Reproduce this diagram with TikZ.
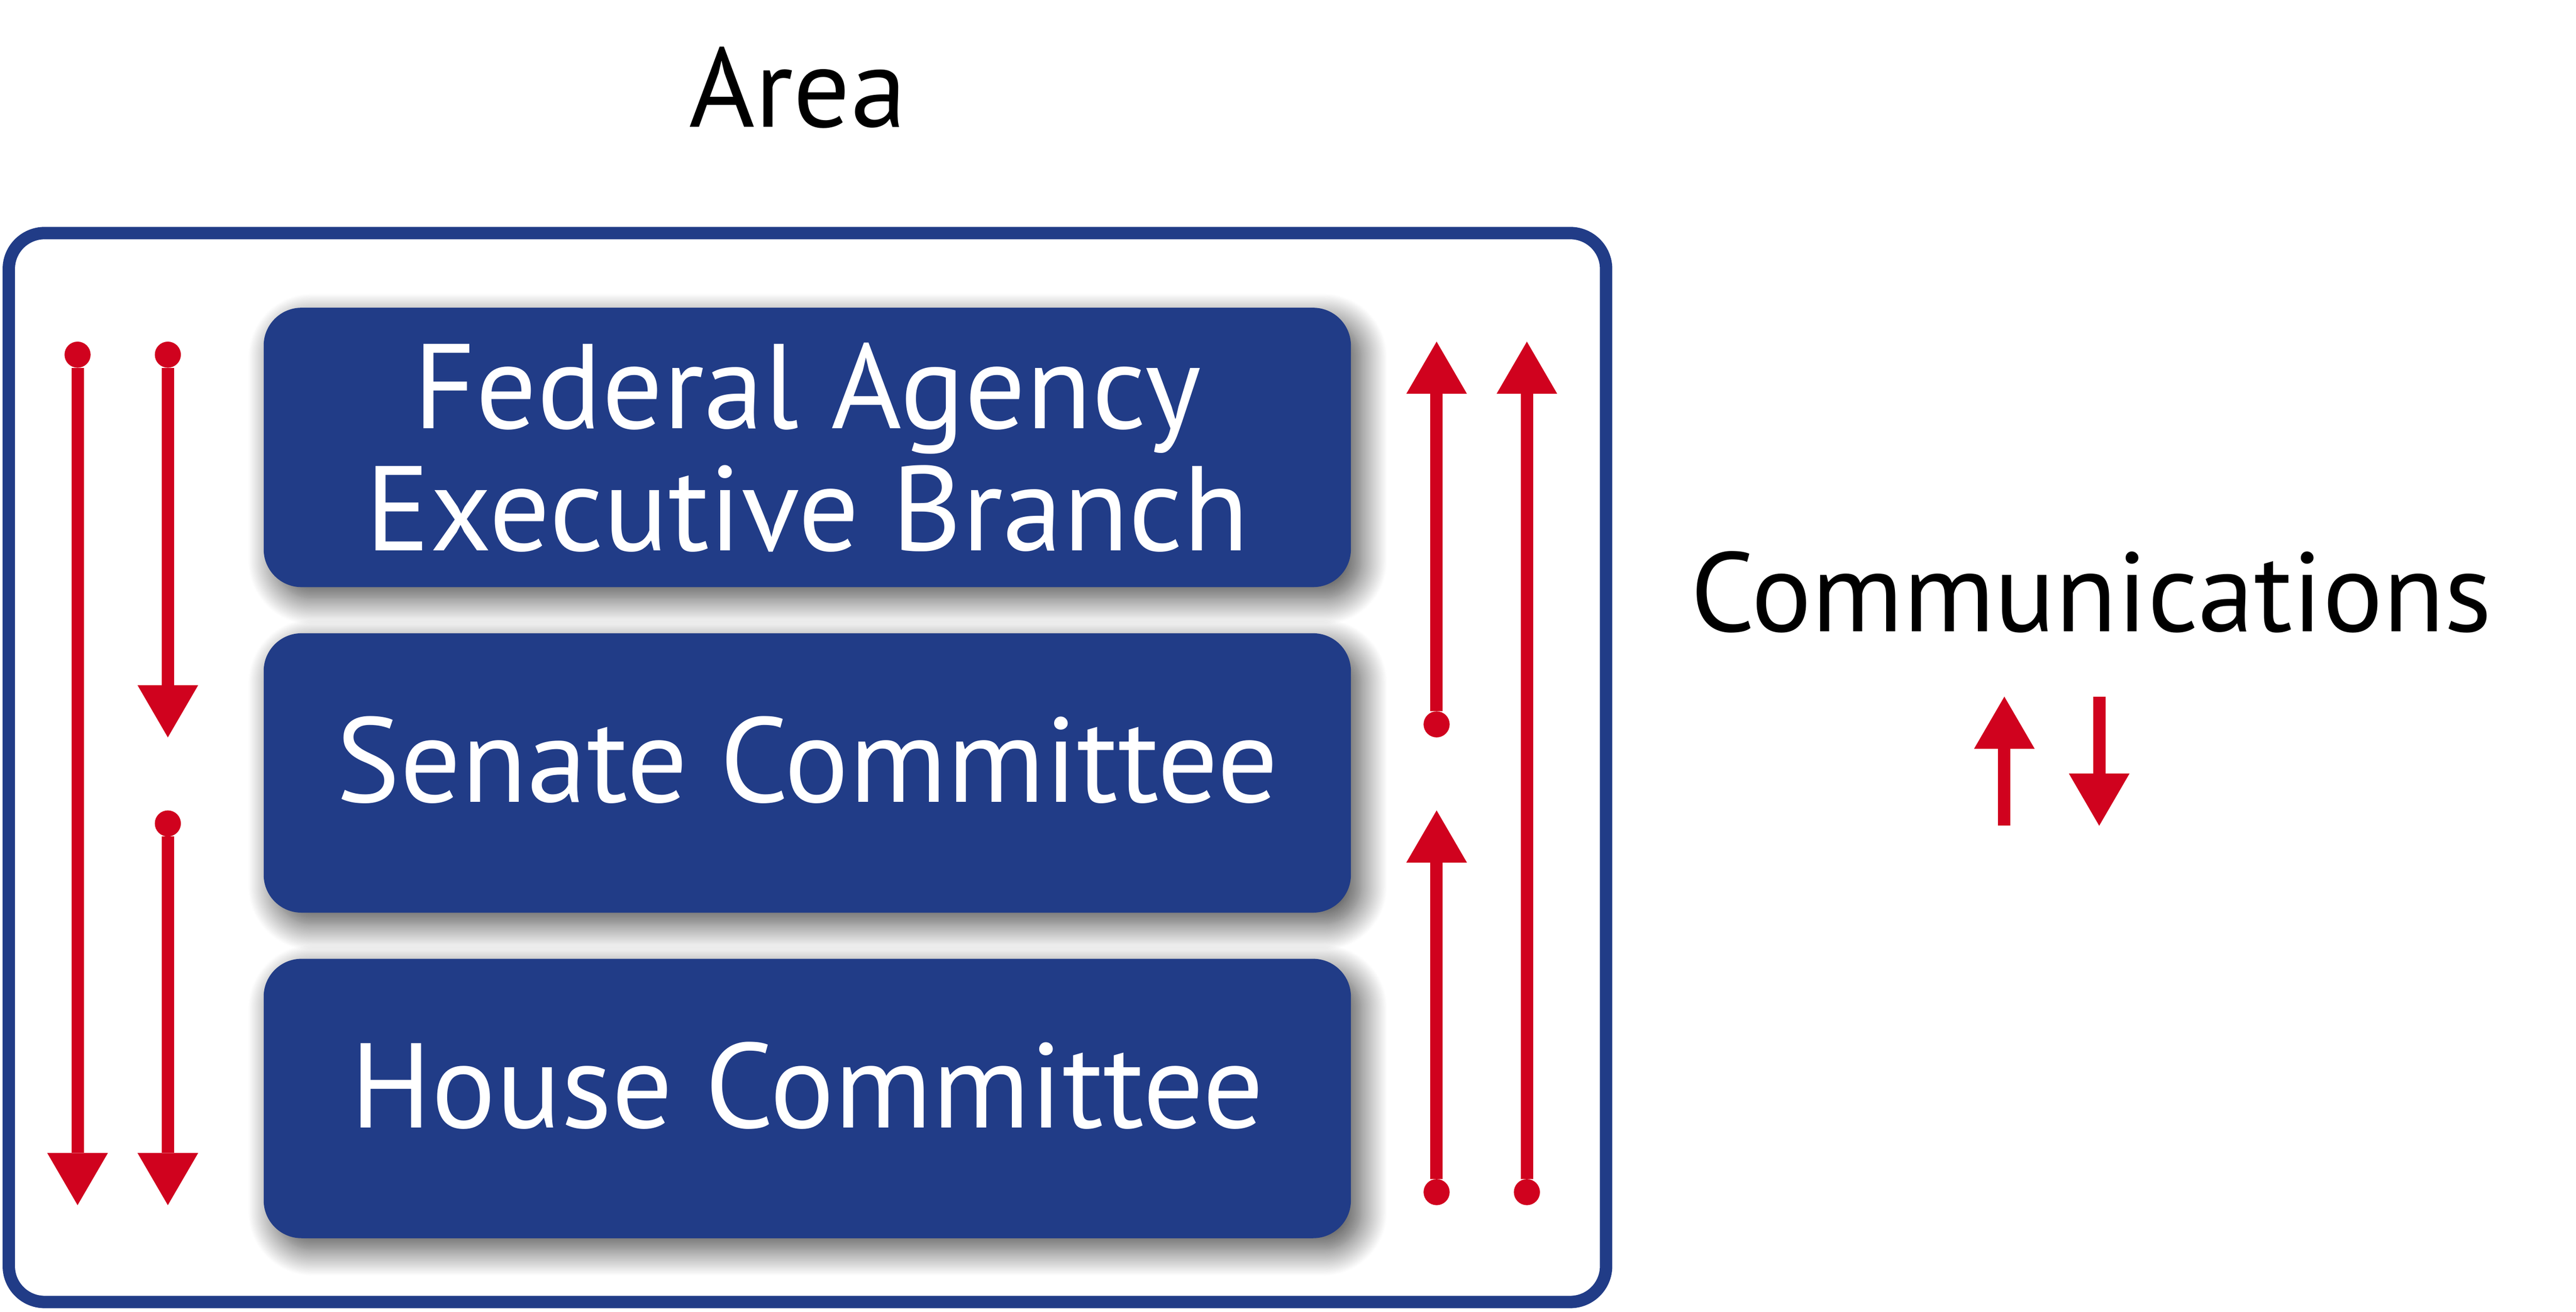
\documentclass[tikz,border=0pt]{standalone}
\usepackage{fontspec}
\setmainfont{PT Sans}
\usetikzlibrary{positioning}
\usetikzlibrary{arrows.meta, shadows.blur}

\definecolor{areablue}{RGB}{33,60,135}
\definecolor{flowred}{RGB}{208,2,30}

\tikzset{
  panel/.style={rectangle, rounded corners=0.29cm, fill=areablue, text=white,
    minimum width=8.34cm, minimum height=2.1425cm, align=center,
    font=\fontsize{26.3}{26.7}\selectfont,
    blur shadow={shadow xshift=0.08cm, shadow yshift=-0.09cm, shadow blur radius=0.2cm,
      shadow blur steps=30, shadow opacity=70}},
  lifted/.style={text depth=6pt},
  caption/.style={font=\fontsize{24.6}{26}\selectfont, text=black, anchor=base, inner sep=0pt},
  flow/.style={draw=flowred, line width=0.095cm},
  headonly/.style={-{Triangle[length=0.4cm, width=0.465cm, line width=0pt]}},
  dothead/.style={{Circle[length=0.2cm, line width=0pt]}-{Triangle[length=0.4cm, width=0.465cm, line width=0pt]}},
}

\begin{document}
\begin{tikzpicture}
\useasboundingbox (0,0) rectangle (19.76,10.06);

% outer area frame
\draw[areablue, line width=0.095cm, rounded corners=0.275cm] (0.0675,0.075) rectangle (12.32,8.2725);
\node[caption] (area) at (6.12,9.0875) {Area};

% the three bodies
\node[panel] (agency) at (6.1925,6.62875) {Federal Agency\\Executive Branch};
\node[panel, lifted, below=0.34cm of agency] (senate) {Senate Committee};
\node[panel, lifted, below=0.34cm of senate] (house) {House Committee};

% arrow end points
\coordinate (dl1a) at (0.595,7.44);
\coordinate (dl1b) at (0.595,0.8175);
\coordinate (dl2a) at (1.2875,7.44);
\coordinate (dl2b) at (1.2875,4.405);
\coordinate (dl2c) at (1.2875,3.845);
\coordinate (dl2d) at (1.2875,0.8175);
\coordinate (ur1a) at (11.02,4.405);
\coordinate (ur1b) at (11.02,7.44);
\coordinate (ur1c) at (11.02,0.8175);
\coordinate (ur1d) at (11.02,3.845);
\coordinate (ur2a) at (11.7125,0.8175);
\coordinate (ur2b) at (11.7125,7.44);

\draw[flow, dothead] (dl1a) -- (dl1b);
\draw[flow, dothead] (dl2a) -- (dl2b);
\draw[flow, dothead] (dl2c) -- (dl2d);
\draw[flow, dothead] (ur1a) -- (ur1b);
\draw[flow, dothead] (ur1c) -- (ur1d);
\draw[flow, dothead] (ur2a) -- (ur2b);

% legend
\node[caption] (comm) at (16.0425,5.2175) {Communications};
\coordinate (upfoot) at (15.375,3.7275);
\coordinate (uptop) at (15.375,4.7175);
\coordinate (downtop) at (16.1025,4.7175);
\coordinate (downfoot) at (16.1025,3.7275);
\draw[flow, headonly] (upfoot) -- (uptop);
\draw[flow, headonly] (downtop) -- (downfoot);

\end{tikzpicture}
\end{document}
